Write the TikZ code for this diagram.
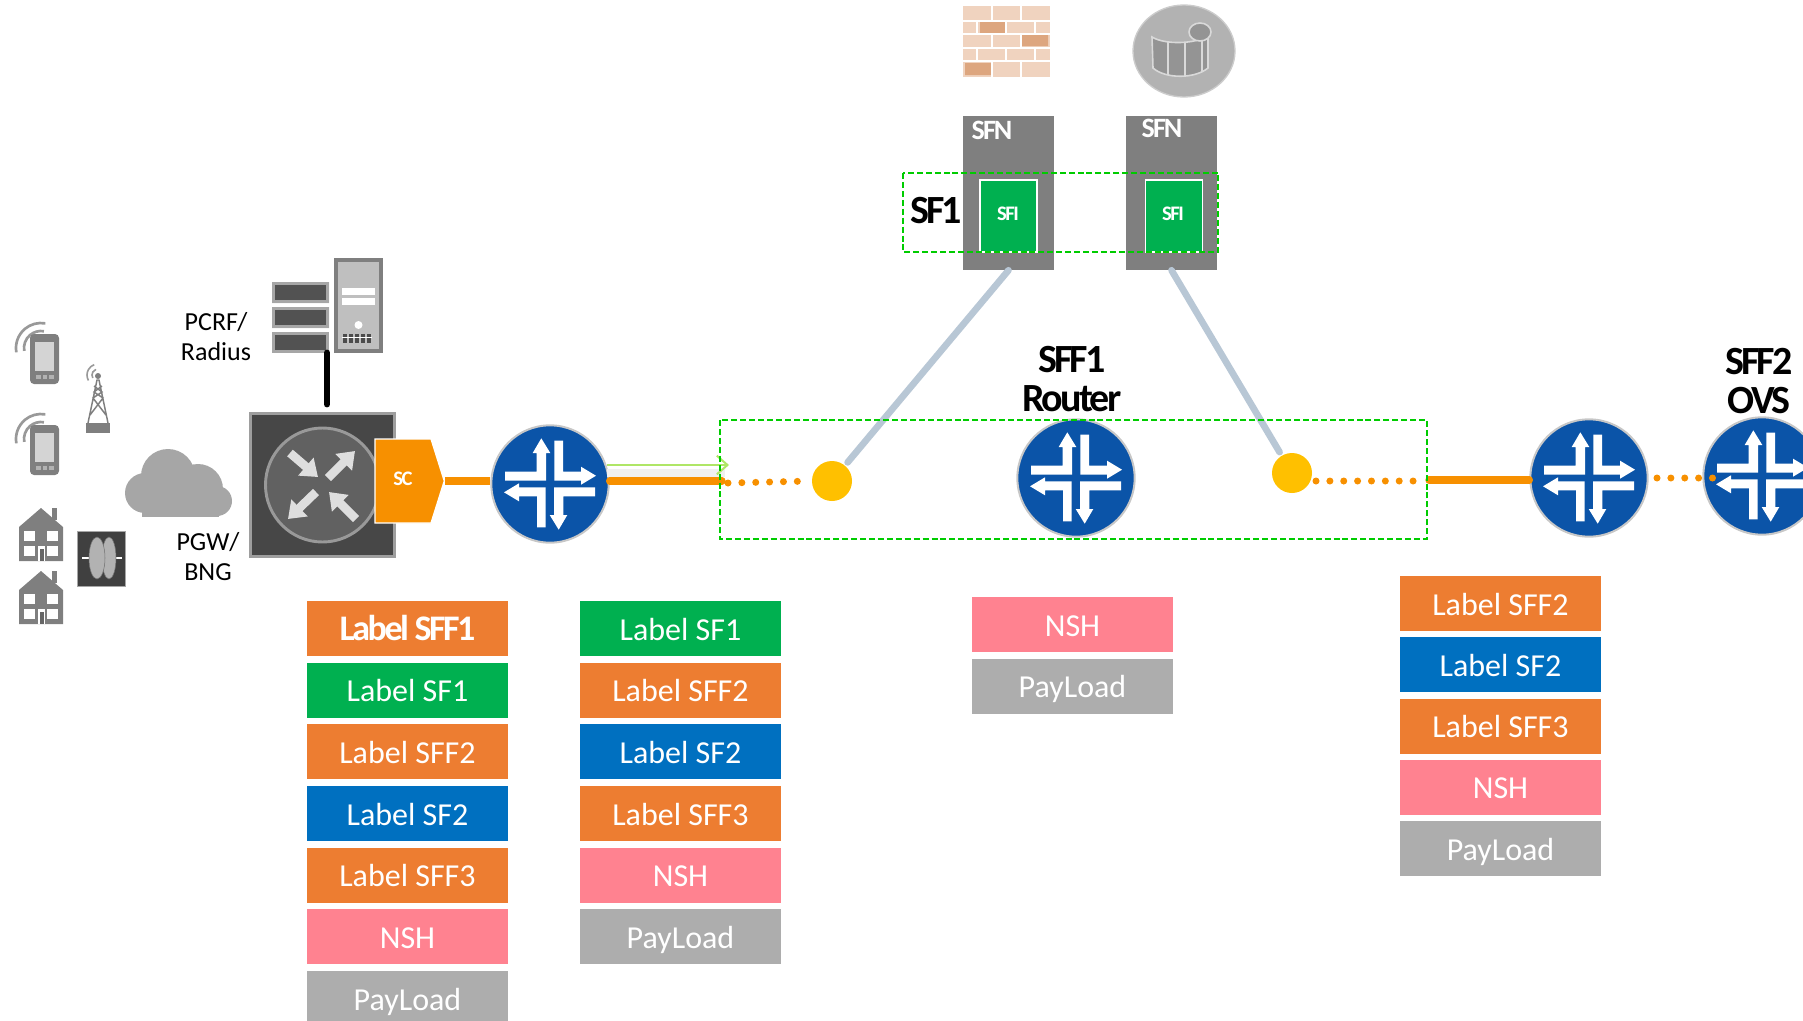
\documentclass[tikz,border=0pt]{standalone}
\usepackage{fontspec}
\setmainfont{Carlito}
\newfontfamily\tightfont[LetterSpace=-7]{Carlito}
\usetikzlibrary{positioning,arrows.meta,shapes.symbols}
\definecolor{lblorange}{HTML}{ED7D31}
\definecolor{lblgreen}{HTML}{00B050}
\definecolor{lblblue}{HTML}{0070C0}
\definecolor{lblpink}{HTML}{FF8290}
\definecolor{lblgray}{HTML}{ADADAD}
\definecolor{lineorange}{HTML}{F79000}
\definecolor{jblue}{HTML}{0B54A8}
\definecolor{dotyellow}{HTML}{FFC000}
\definecolor{dashgreen}{HTML}{00CC00}
\definecolor{sfline}{HTML}{B8C7D5}
\definecolor{icongray}{HTML}{7F7F7F}
\definecolor{brick}{HTML}{F0D3BF}
\definecolor{brickdark}{HTML}{DDA67F}
\tikzset{
  lbl/.style={minimum width=150.75pt,minimum height=41.25pt,inner sep=0pt,outer sep=0pt,text=white,text height=17.5pt,text depth=0pt,font=\fontsize{24}{30}\selectfont},
  lbl sff/.style={lbl,fill=lblorange},
  lbl sf/.style={lbl,fill=lblgreen},
  lbl sftwo/.style={lbl,fill=lblblue},
  lbl nsh/.style={lbl,fill=lblpink},
  lbl pay/.style={lbl,fill=lblgray},
  routernode/.style={circle,fill=jblue,draw=black!22,line width=1.5pt,minimum size=88pt,inner sep=0pt},
  yellownode/.style={circle,fill=dotyellow,minimum size=30pt,inner sep=0pt},
  dashbox/.style={draw=dashgreen,line width=1.5pt,dash pattern=on 4.5pt off 2.2pt},
  orangeline/.style={draw=lineorange,line width=5.5pt},
  orangedots/.style={draw=lineorange,line width=5.25pt,line cap=round,dash pattern=on 0pt off 10.4pt},
  sfconn/.style={draw=sfline,line width=5pt,line cap=round,shorten >=3pt},
  sfnbox/.style={fill=icongray,minimum width=68.25pt,minimum height=115.5pt,inner sep=0pt},
  sfibox/.style={fill=lblgreen,draw=white,line width=1.2pt,minimum width=42.5pt,minimum height=54pt,inner sep=0pt},
  boldtxt/.style={font=\tightfont\bfseries\fontsize{30}{29}\selectfont,align=center,inner sep=0pt},
  smalltxt/.style={font=\tightfont\bfseries\fontsize{15.5}{16}\selectfont,text=white,inner sep=0pt},
  sidetxt/.style={font=\fontsize{19.5}{22.5}\selectfont,align=center,inner sep=0pt},
  jroute/.pic={
    \foreach \a in {0,180}{
      \fill[white,rotate=\a] (-45,-12.3) -- (-13.3,-12.3) -- (-13.3,-31) -- (-17.3,-31) -- (-8.7,-45.7)
        -- (0.3,-31) -- (-4,-31) -- (-4,-3.3) -- (-45,-3.3) -- cycle;
      \fill[white,rotate=\a] (4.3,-43.3) -- (13,-43.3) -- (13,-12.3) -- (31,-12.3) -- (31,-17.3) -- (46,-8.3)
        -- (31,0.7) -- (31,-3.3) -- (4.3,-3.3) -- cycle;
    }
  },
  phone/.pic={
    \foreach \r in {9,17,25}
      \draw[black!40,line width=2pt] (11,14) ++(170:\r) arc (170:280:\r);
    \fill[icongray,rounded corners=3pt] (0,0) rectangle (29,50);
    \fill[black!17] (5,8) rectangle (24,37);
    \foreach \x in {6,12.5,19} \fill[black!30] (\x,41) rectangle ++(4.5,4);
  },
  house/.pic={
    \fill[icongray] (33,0) rectangle (38,12);
    \fill[icongray] (0,19) -- (22,0) -- (44,19) -- (44,53) -- (0,53) -- cycle;
    \foreach \x/\y in {5/23,28/23,5/38,28/38} \fill[white] (\x,\y) rectangle ++(11,10);
    \fill[white] (19,38) rectangle (26,53);
    \fill[black!60] (20.5,41) rectangle (24.5,53);
  }
}
\begin{document}
\begin{tikzpicture}[x=.75pt,y=-.75pt,node distance=5pt]
\useasboundingbox (0,0) rectangle (1803,1021);

\foreach \y in {334,425} \pic at (30,\y) {phone};
\foreach \y in {508,571} \pic at (19,\y) {house};

\draw[icongray,line width=1.1pt] (88,423) -- (97,380) -- (99,380) -- (108,423) (90,415) -- (103,398) -- (94,392) -- (102,386)
  (106,415) -- (93,398) -- (102,392) -- (94,386);
\fill[icongray] (98,376) circle (3);
\fill[icongray] (86,423) rectangle (110,433);
\foreach \r in {6,11}
  \draw[black!40,line width=1.2pt] (98,375) ++(150:\r) arc (150:250:\r);

\foreach \cx/\cy/\cr in {168/476/27,145/493/20,198/489/25,217/501/15}
  \fill[black!35] (\cx,\cy) circle (\cr);
\fill[black!35] (142,498) rectangle (219,517);

\node[fill=black!75,draw=black!35,line width=1pt,minimum width=36pt,minimum height=41pt,inner sep=0pt] (roller) at (101.5,559) {};
\draw[white,line width=1.2pt] (82,558) -- (91,558) (110,558) -- (122,558);
\fill[black!30,draw=black!55] (109,558) ellipse (7 and 21);
\fill[black!30,draw=black!55] (97,558) ellipse (8 and 21);

\node[fill=black!72,draw=black!38,line width=2.2pt,minimum width=108pt,minimum height=107pt,inner sep=0pt] (pgw) at (322.5,485) {};
\draw[black!40,fill=black!62,line width=2.2pt] (pgw.center) circle (57);
\foreach \fx/\fy/\tx/\ty in {290/453/318/477,328/478/355/451,316/492/288/519,356/519/329/492}
  \draw[black!13,line width=6.5pt,-{Triangle[length=12pt,width=17pt]}] (\fx,\fy) -- (\tx,\ty);

\node[signal,signal to=east,signal from=nowhere,signal pointer angle=145,fill=lineorange,draw=white,line width=1pt,
  minimum width=52pt,minimum height=63pt,inner sep=0pt,smalltxt] (sc) at (403,481) {\raisebox{3pt}{SC}};

\fill[black!25] (272,282) rectangle (329,303) (272,307) rectangle (329,328);
\node[fill=black!35,minimum width=43pt,minimum height=16pt,inner sep=0pt] (pcrf) at (300.5,342.5) {};
\foreach \y in {282,307,332} {
  \fill[black!35] (272,\y) rectangle (329,\y+21);
  \fill[black!68] (275,\y+3) rectangle (326,\y+18);
}
\fill[icongray] (334,258) rectangle (383,353);
\fill[black!25] (338,262) rectangle (379,349);
\fill[white] (342,288) rectangle (375,295);
\fill[white] (342,298) rectangle (375,305);
\fill[white] (358.5,325) ellipse (4 and 4);
\foreach \x in {343,349,355,361,367}
  \fill[black!70] (\x,334) rectangle ++(4,8.5);
\fill[white] (342,337) rectangle (372,338.2);
\coordinate (pcrfout) at (327,353);
\coordinate (pgwin) at (327,404);
\draw[black,line width=5.2pt,line cap=round] (pcrfout) -- (pgwin);

\node[sidetxt] (pcrftxt) at (216,337) {PCRF/\\Radius};
\node[sidetxt] (pgwtxt) at (208,557) {PGW/\\BNG};

\foreach \n/\px/\py in {r1/550/484,r2/1076/478,r3/1589/478,r4/1762/476}{
  \node[routernode] (\n) at (\px,\py) {};
  \pic at (\n) {jroute};
}
\node[yellownode] (y1) at (832,481) {};
\node[yellownode] (y2) at (1292,473) {};

\coordinate (e1) at (722,481);
\coordinate (dl1) at (728,483);
\coordinate (dl2) at (1316,481);
\coordinate (dl3) at (1416,481);
\coordinate (e2) at (1429,480);
\coordinate (dl4) at (1657,478);
\coordinate (dl5) at (1714,478);
\coordinate (g1) at (607,465);
\coordinate (g2) at (729,465);

\fill[black!6] (607,469) rectangle (725,477);
\draw[orangeline] (sc.east) -- (sc.east -| r1.west);
\draw[orangeline,line cap=round] (r1.east |- e1) -- (e1);
\draw[orangeline,line cap=round] (e2) -- (e2 -| r3.west);
\draw[orangedots,shorten >=5pt] (dl1) -- (y1.west);
\draw[orangedots] (dl2) -- (dl3);
\draw[orangedots] (dl4) -- (dl5);
\draw[draw=lblgreen!45!yellow!70!white,line width=1.5pt,-{Straight Barb[length=8pt,width=14pt]}] (g1) -- (g2);

\node[sfnbox] (sfn1) at (1008.5,193) {};
\node[sfnbox] (sfn2) at (1171.5,193) {};
\node[sfibox] (sfi1) at (1008.5,216) {};
\node[sfibox] (sfi2) at (1174,216) {};
\node[smalltxt] (sfi1txt) at (1008,214) {SFI};
\node[smalltxt] (sfi2txt) at (1173,214) {SFI};
\node[smalltxt,font=\tightfont\bfseries\fontsize{21}{22}\selectfont] (sfn1txt) at (992,130) {SFN};
\node[smalltxt,font=\tightfont\bfseries\fontsize{21}{22}\selectfont] (sfn2txt) at (1162,128) {SFN};
\draw[sfconn] (sfn1.south) -- (y1);
\draw[sfconn] (sfn2.south) -- (y2);

\draw[dashbox] (903,173) rectangle (1218,252);
\draw[dashbox] (720,420) rectangle (1427,539);
\node[boldtxt] (sf1txt) at (936,211) {SF1};
\node[boldtxt] (sff1txt) at (1072,379) {SFF1\\Router};
\node[boldtxt] (sff2txt) at (1759,381) {SFF2\\OVS};

\fill[brick] (963,6) rectangle (1050,77);
\fill[brickdark] (980,22) rectangle (1005,33) (1022,35) rectangle (1048,46) (965,63) rectangle (991,75);
\draw[white,line width=1pt] (963,21) -- (1050,21) (963,34) -- (1050,34) (963,48) -- (1050,48) (963,61) -- (1050,61);
\foreach \ya/\yb in {6/21,34/48,61/77}
  \draw[white,line width=1pt] (992,\ya) -- (992,\yb) (1021,\ya) -- (1021,\yb);
\foreach \ya/\yb in {21/34,48/61}
  \draw[white,line width=1pt] (977,\ya) -- (977,\yb) (1006,\ya) -- (1006,\yb) (1035,\ya) -- (1035,\yb);

\fill[black!30,draw=black!20,line width=1pt] (1184,51) ellipse (51 and 46);
\fill[black!42,draw=black!15,line width=1.2pt] (1152,37) .. controls (1165,45) and (1195,44) .. (1208,36) -- (1208,68) .. controls (1195,79) and (1165,79) .. (1153,68) -- cycle;
\draw[black!15,line width=1.2pt] (1168,42) -- (1168,75) (1185,43) -- (1185,77) (1202,39) -- (1202,72);
\fill[black!42,draw=black!15,line width=1.2pt] (1200,32) ellipse (11 and 9);

\node[lbl sff,font=\tightfont\bfseries\fontsize{27}{30}\selectfont] (a1) at (407.5,628.5) {Label SFF1};
\node[lbl sf,below=of a1] (a2) {Label SF1};
\node[lbl sff,below=of a2] (a3) {Label SFF2};
\node[lbl sftwo,below=of a3] (a4) {Label SF2};
\node[lbl sff,below=of a4] (a5) {Label SFF3};
\node[lbl nsh,below=of a5] (a6) {NSH};
\node[lbl pay,below=of a6] (a7) {PayLoad};

\node[lbl sf] (b1) at (680.5,628.5) {Label SF1};
\node[lbl sff,below=of b1] (b2) {Label SFF2};
\node[lbl sftwo,below=of b2] (b3) {Label SF2};
\node[lbl sff,below=of b3] (b4) {Label SFF3};
\node[lbl nsh,below=of b4] (b5) {NSH};
\node[lbl pay,below=of b5] (b6) {PayLoad};

\node[lbl nsh] (c1) at (1072.5,624.5) {NSH};
\node[lbl pay,below=of c1] (c2) {PayLoad};

\node[lbl sff] (d1) at (1500.5,603.5) {Label SFF2};
\node[lbl sftwo,below=4.7pt of d1] (d2) {Label SF2};
\node[lbl sff,below=4.7pt of d2] (d3) {Label SFF3};
\node[lbl nsh,below=4.7pt of d3] (d4) {NSH};
\node[lbl pay,below=4.7pt of d4] (d5) {PayLoad};
\end{tikzpicture}
\end{document}
